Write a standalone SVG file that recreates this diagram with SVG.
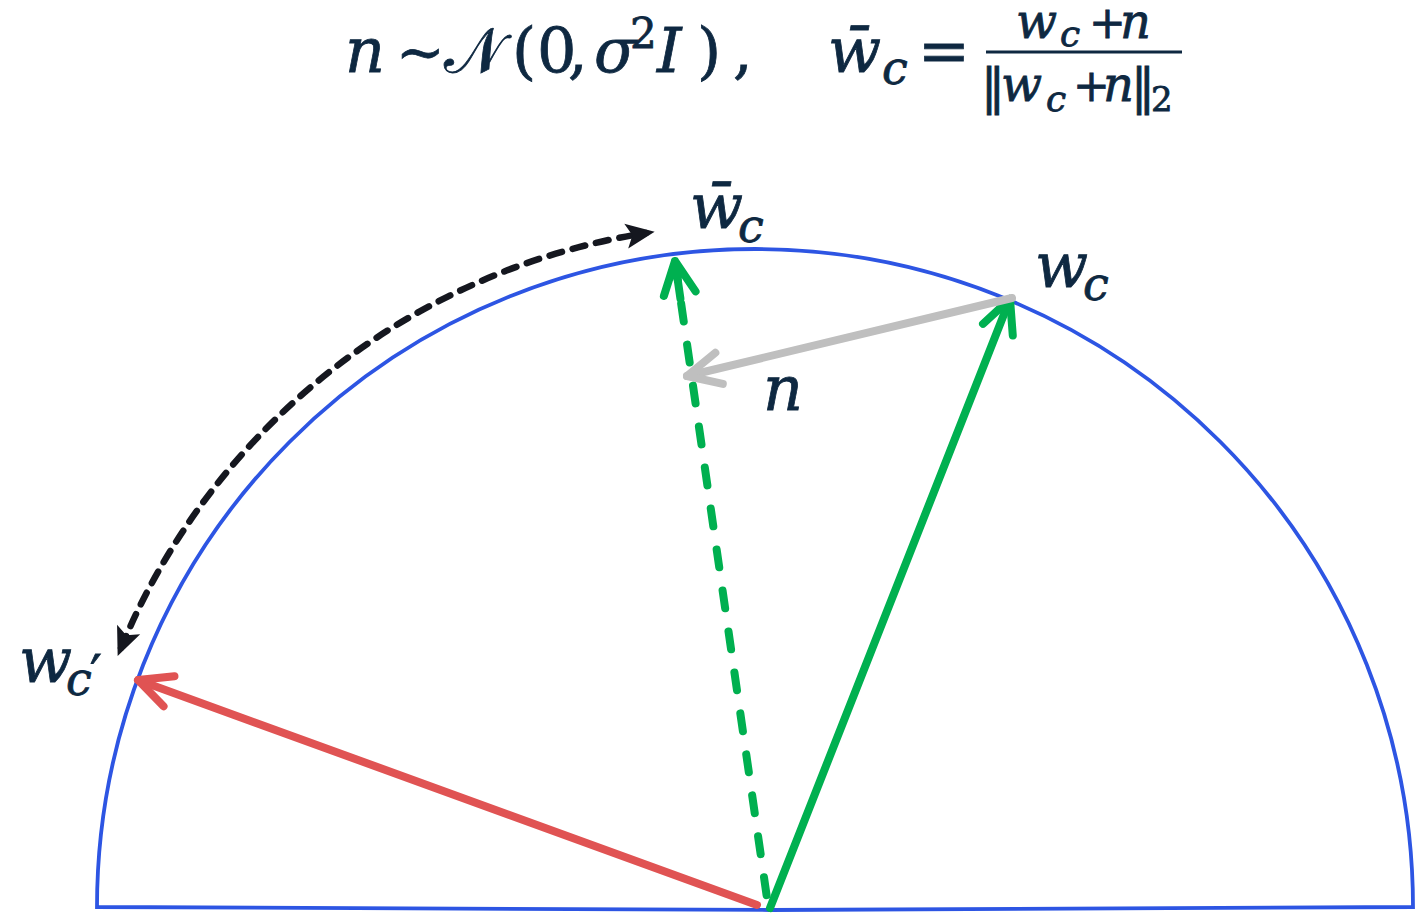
<svg xmlns="http://www.w3.org/2000/svg" width="1418" height="917" viewBox="0 0 1418 917">
<style>
  text { fill: #0E2841; stroke: #0E2841; stroke-width: 0.8px; font-family: "DejaVu Serif", serif; }
  .m { font-style: italic; }
  .big { font-size: 62px; }
  .sub { font-size: 46px; }
  .num { font-size: 48px; }
  .nsub { font-size: 36px; }
  .shaft { fill: none; stroke-width: 8; stroke-linecap: round; stroke-linejoin: round; }
</style>
<defs>
  <marker id="hRed" markerUnits="userSpaceOnUse" orient="auto" refX="0" refY="0" markerWidth="60" markerHeight="60" viewBox="-40 -30 50 60" overflow="visible">
    <path d="M -33,-16 L 0,0 L -33,16" fill="none" stroke="#E05353" stroke-width="8" stroke-linecap="round" stroke-linejoin="round"/>
  </marker>
  <marker id="hGreen" markerUnits="userSpaceOnUse" orient="auto" refX="0" refY="0" markerWidth="60" markerHeight="60" viewBox="-40 -30 50 60" overflow="visible">
    <path d="M -33,-16 L 0,0 L -33,16" fill="none" stroke="#00B050" stroke-width="8" stroke-linecap="round" stroke-linejoin="round"/>
  </marker>
  <marker id="hGreenD" markerUnits="userSpaceOnUse" orient="auto" refX="0" refY="0" markerWidth="60" markerHeight="60" viewBox="-45 -30 55 60" overflow="visible">
    <path d="M -33,-16 L 0,0 L -33,16 M 0,0 L -38,0" fill="none" stroke="#00B050" stroke-width="8" stroke-linecap="round" stroke-linejoin="round"/>
  </marker>
  <marker id="hGray" markerUnits="userSpaceOnUse" orient="auto" refX="0" refY="0" markerWidth="60" markerHeight="60" viewBox="-40 -30 50 60" overflow="visible">
    <path d="M -33,-16 L 0,0 L -33,16" fill="none" stroke="#BFBFBF" stroke-width="8" stroke-linecap="round" stroke-linejoin="round"/>
  </marker>
  <marker id="hBlack" markerUnits="userSpaceOnUse" orient="auto-start-reverse" refX="0" refY="0" markerWidth="40" markerHeight="40" viewBox="-22 -14 32 28" overflow="visible">
    <path d="M -16,-10 L 7,0 L -16,10 L -11,0 Z" fill="#15171F"/>
  </marker>
</defs>

<g id="semicircle">
  <path d="M 97,907 A 658 658 0 0 1 1413,907 L 770,910 Z" fill="none" stroke="#2D55E3" stroke-width="3.8" stroke-linejoin="miter"/>
</g>

<g id="connectors">
  <path id="arc-dashed" d="M 121,648 A 684 684 0 0 1 646,233" fill="none" stroke="#15171F" stroke-width="6.5" stroke-linecap="round" stroke-dasharray="13 11" marker-start="url(#hBlack)" marker-end="url(#hBlack)"/>
  <path id="red-arrow" class="shaft" d="M 757,905 L 138,680" stroke="#E05353" marker-end="url(#hRed)"/>
  <path id="green-dashed" class="shaft" d="M 768,905 L 675,261" stroke="#00B050" stroke-dasharray="18 23.4" stroke-dashoffset="-10" marker-end="url(#hGreenD)"/>
  <path id="green-arrow" class="shaft" d="M 770,908 L 1010,299" stroke="#00B050" marker-end="url(#hGreen)"/>
  <path id="gray-arrow" class="shaft" d="M 1012,298 L 687,376" stroke="#BFBFBF" marker-end="url(#hGray)"/>
</g>

<g id="formula">
  <text class="big">
    <tspan class="m" x="345" y="72">n</tspan>
    <tspan x="396" y="72" style="font-size:58px">∼</tspan>
    <tspan x="444" y="72">𝒩</tspan>
    <tspan x="512" y="72">(</tspan>
    <tspan x="537" y="72">0</tspan>
    <tspan x="568" y="72">,</tspan>
    <tspan class="m" x="594" y="72">σ</tspan>
    <tspan x="630" y="48" style="font-size:42px">2</tspan>
    <tspan class="m" x="657" y="72">I</tspan>
    <tspan x="697" y="72">)</tspan>
    <tspan x="733" y="72">,</tspan>
    <tspan class="m" x="828" y="72">w̄</tspan>
    <tspan class="m" x="882" y="84" style="font-size:46px">c</tspan>
    <tspan x="918" y="72">=</tspan>
  </text>
  <line x1="986" y1="52" x2="1182" y2="52" stroke="#0E2841" stroke-width="3.2"/>
  <text class="num">
    <tspan class="m" x="1016" y="38">w</tspan>
    <tspan class="m nsub" x="1060" y="46">c</tspan>
    <tspan x="1089" y="38" style="font-size:44px">+</tspan>
    <tspan class="m" x="1120" y="38">n</tspan>
  </text>
  <text class="num">
    <tspan x="981" y="104">‖</tspan>
    <tspan class="m" x="1001" y="101">w</tspan>
    <tspan class="m nsub" x="1046" y="111">c</tspan>
    <tspan x="1073" y="101" style="font-size:44px">+</tspan>
    <tspan class="m" x="1103" y="101">n</tspan>
    <tspan x="1131" y="104">‖</tspan>
    <tspan class="nsub" x="1151" y="111" style="font-size:34px">2</tspan>
  </text>
</g>

<g id="label-wbar">
  <text class="big"><tspan class="m" x="690" y="228">w̄</tspan><tspan class="m sub" x="738" y="242">c</tspan></text>
</g>
<g id="label-wc">
  <text class="big"><tspan class="m" x="1035" y="287">w</tspan><tspan class="m sub" x="1083" y="300">c</tspan></text>
</g>
<g id="label-n">
  <text class="big"><tspan class="m" x="763" y="410">n</tspan></text>
</g>
<g id="label-wcprime">
  <text class="big"><tspan class="m" x="19" y="682">w</tspan><tspan class="m sub" x="66" y="695">c</tspan><tspan class="sub" x="90" y="692" style="font-size:52px">′</tspan></text>
</g>
</svg>
